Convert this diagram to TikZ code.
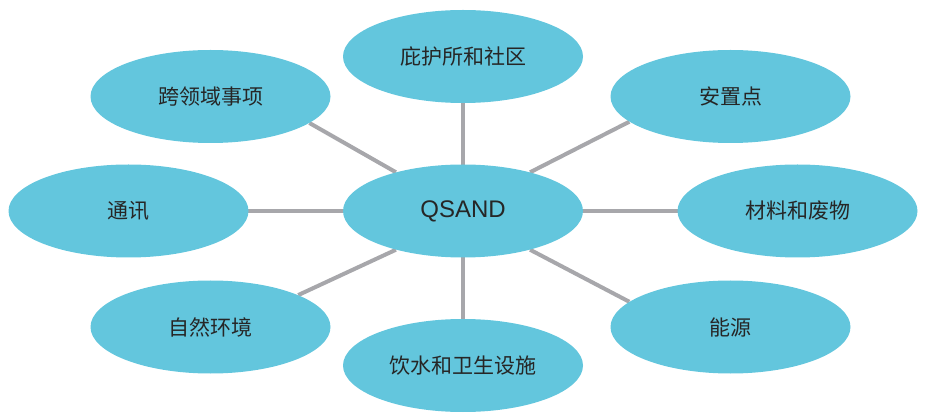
\documentclass[tikz,border=0pt]{standalone}
\usepackage{fontspec}
\setmainfont{Liberation Sans}
\newfontfamily\cjk{Noto Sans CJK SC}
\usetikzlibrary{shapes.geometric,backgrounds}
\definecolor{bubble}{HTML}{63C6DD}
\definecolor{link}{HTML}{A7A7AB}
\definecolor{txt}{HTML}{262626}
\begin{document}
\begin{tikzpicture}[x=1pt,y=-1pt,
  bub/.style={ellipse,fill=bubble,minimum width=240pt,minimum height=93pt,inner sep=0pt,text=txt,font=\cjk\fontsize{21}{25}\selectfont},
  conn/.style={draw=link,line width=4pt}]
\useasboundingbox (0,0) rectangle (927,414);
\node[bub,font=\fontsize{24}{28}\selectfont] (c) at (463,211) {QSAND};
\node[bub] (t) at (463,56.5) {庇护所和社区};
\node[bub] (tl) at (210.5,96.5) {跨领域事项};
\node[bub] (tr) at (730.5,96.5) {安置点};
\node[bub] (l) at (128.5,211) {通讯};
\node[bub] (r) at (797.5,211) {材料和废物};
\node[bub] (bl) at (210.5,327) {自然环境};
\node[bub] (br) at (730.5,327) {能源};
\node[bub] (b) at (463,365.5) {饮水和卫生设施};
\begin{pgfonlayer}{background}
\foreach \n in {t,l,r,b}
  \draw[conn] (c.center) -- (\n.center);
\draw[conn] (c.150) -- (tl.-15);
\draw[conn] (c.30) -- (tr.194);
\draw[conn] (c.210) -- (bl.20);
\draw[conn] (c.-30) -- (br.166);
\end{pgfonlayer}
\end{tikzpicture}
\end{document}
